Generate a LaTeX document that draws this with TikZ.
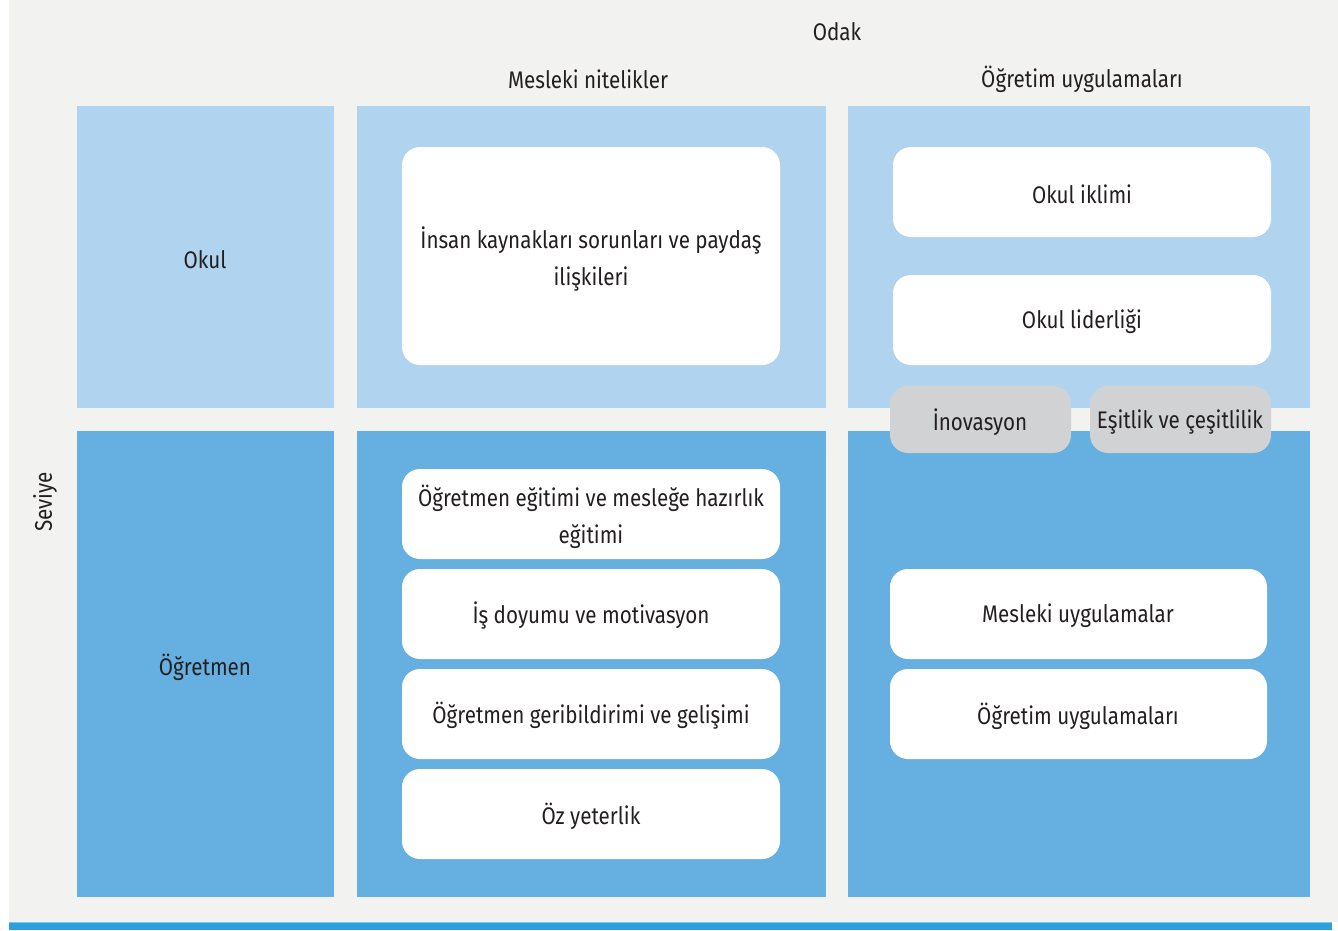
\documentclass[tikz,border=0pt]{standalone}
\usepackage{fontspec}
\setmainfont[FakeStretch=0.86]{Fira Sans}
\definecolor{bg}{HTML}{F2F2F1}
\definecolor{lb}{HTML}{B0D3EF}
\definecolor{db}{HTML}{65B0E0}
\definecolor{gb}{HTML}{D1D2D4}
\definecolor{line}{HTML}{2AA0DC}
\definecolor{txt}{HTML}{231F20}
\tikzset{
  wbox/.style={fill=white, rounded corners=18pt, draw=none},
  gbox/.style={fill=gb, rounded corners=18pt, draw=none},
  lbl/.style={text=txt, font=\fontsize{24}{37}\selectfont, inner sep=0, align=center},
}
\begin{document}
\begin{tikzpicture}[x=1pt,y=-1pt]
\useasboundingbox (0,0) rectangle (1338,930);
\fill[white] (0,0) rectangle (1338,930);
\fill[bg] (9,0) rectangle (1338,922);
\fill[line!60] (9,922) rectangle (1332,923);
\fill[line] (9,923) rectangle (1332,930);
% panels
\fill[lb] (77,106) rectangle (334,408);
\fill[lb] (357,106) rectangle (826,408);
\fill[lb] (848,106) rectangle (1310,408);
\fill[db] (77,431) rectangle (334,897);
\fill[db] (357,431) rectangle (826,897);
\fill[db] (848,431) rectangle (1310,897);
% headers
\node[lbl] (odak) at (837,32) {Odak};
\node[lbl] (mn) at (588,79) {Mesleki nitelikler};
\node[lbl] (ou) at (1082,79) {Öğretim uygulamaları};
\node[lbl] (okul) at (205,260) {Okul};
\node[lbl] (ogr) at (205,667) {Öğretmen};
\node[lbl, rotate=90] (sev) at (45,502) {Seviye};
% boxes
\path[wbox] (402,147) rectangle (780,365);
\node[lbl] (ik) at (591,259) {İnsan kaynakları sorunları ve paydaş\\ilişkileri};
\path[wbox] (893,147) rectangle (1271,237);
\node[lbl] (oi) at (1082,194) {Okul iklimi};
\path[wbox] (893,275) rectangle (1271,365);
\node[lbl] (ol) at (1082,322) {Okul liderliği};
\path[gbox] (890,386) rectangle (1071,453);
\node[lbl] (ino) at (980,422) {İnovasyon};
\path[gbox] (1090,386) rectangle (1271,453);
\node[lbl] (es) at (1180,422) {Eşitlik ve çeşitlilik};
\path[wbox] (402,469) rectangle (780,559);
\node[lbl] (oe) at (591,517) {Öğretmen eğitimi ve mesleğe hazırlık\\eğitimi};
\path[wbox] (402,569) rectangle (780,659);
\node[lbl] (id) at (591,616) {İş doyumu ve motivasyon};
\path[wbox] (402,669) rectangle (780,759);
\node[lbl] (og) at (591,716) {Öğretmen geribildirimi ve gelişimi};
\path[wbox] (402,769) rectangle (780,859);
\node[lbl] (oz) at (591,816) {Öz yeterlik};
\path[wbox] (890,569) rectangle (1267,659);
\node[lbl] (mu) at (1078,616) {Mesleki uygulamalar};
\path[wbox] (890,669) rectangle (1267,759);
\node[lbl] (ou2) at (1078,716) {Öğretim uygulamaları};
\end{tikzpicture}
\end{document}
